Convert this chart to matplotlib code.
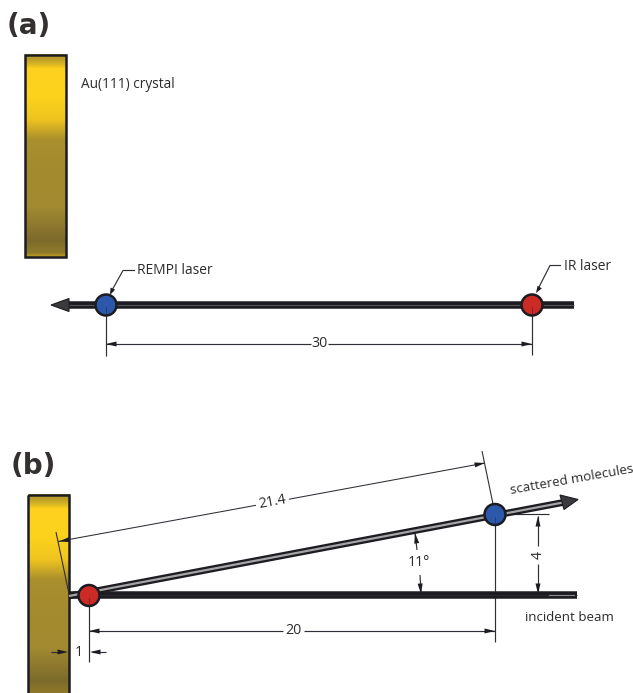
import numpy as np
import matplotlib
matplotlib.use("Agg")
import matplotlib.pyplot as plt
from matplotlib.colors import LinearSegmentedColormap
from matplotlib.patches import Polygon, Circle, Rectangle

W, H = 633, 693
INK = "#1c1c22"
LINE = "#2f2e36"
TXT = "#2b2b2b"
GOLD_STOPS = [0.0, 0.02, 0.04, 0.07, 0.2, 0.32, 0.42, 0.6, 0.75, 0.92, 0.98, 1.0]
GOLD_COLS = ["#d0ac22", "#b89c2a", "#cfae24", "#fdd11e", "#fdd31c", "#efc41f", "#aa8f2e",
             "#a38a2e", "#a38b32", "#7c6a2c", "#8f7a2a", "#c0a020"]

crystal_a = (24.5, 54.5, 66, 257)
crystal_b = (27.5, 494.5, 69, 720)
panel_labels = ["(a)", "(b)"]
beam_a = (574, 305, 68, 305)
rempi_a = (106, 305)
ir_a = (532, 305)
beam_b = (69, 595, 577, 595)
red_b = (89, 595.5)
blue_b = (495, 514.5)
dim_30 = "30"
dim_20 = "20"
dim_214 = "21.4"
dim_4 = "4"
dim_11 = "11°"
dim_1 = "1"

cmap = LinearSegmentedColormap.from_list("gold", list(zip(GOLD_STOPS, GOLD_COLS)))
fig = plt.figure(figsize=(W / 100, H / 100), dpi=100)
ax = fig.add_axes([0, 0, 1, 1])
ax.set_xlim(0, W)
ax.set_ylim(H, 0)
ax.axis("off")
grad = np.linspace(0, 1, 256).reshape(-1, 1)


def crystal(box, span=None):
    x0, y0, x1, y1 = box
    y_end = y0 + (span or (y1 - y0))
    ax.imshow(grad, cmap=cmap, extent=(x0, x1, y_end, y0), aspect="auto", zorder=1)
    ax.add_patch(Rectangle((x0, y0), x1 - x0, y1 - y0, fc="none", ec=INK, lw=1.8, zorder=2))
    ax.set_xlim(0, W)
    ax.set_ylim(H, 0)


def thin(xs, ys, lw=0.85, z=3, color=LINE):
    ax.plot(xs, ys, color=color, lw=lw, zorder=z, solid_capstyle="butt")


def arrow(tip, frm, L=10.5, w=2.5, z=4):
    t = np.array(tip, float)
    d = np.array(frm, float) - t
    d /= np.hypot(*d)
    n = np.array([-d[1], d[0]])
    ax.add_patch(Polygon([t, t + d * L + n * w, t + d * L - n * w], fc=INK, ec="none", zorder=z))


def thick(p, q, lw=4.4, inner="#6d6d70", ilw=0.7, z=5):
    ax.plot([p[0], q[0]], [p[1], q[1]], color=INK, lw=lw, solid_capstyle="butt", zorder=z)
    ax.plot([p[0], q[0]], [p[1], q[1]], color=inner, lw=ilw, solid_capstyle="butt", zorder=z + 0.1)


def ball(c, col):
    ax.add_patch(Circle(c, 10.5, fc=col, ec=INK, lw=1.8, zorder=8))
    ax.plot([c[0], c[0]], [c[1] + 2, c[1] + 10], color=INK, lw=0.5, alpha=0.6, zorder=9)


def label(x, y, s, size=9.6, rot=0, ha="left", va="center"):
    ax.text(x, y, s, fontsize=size, color=TXT, rotation=rot, ha=ha, va=va,
            family="Open Sans", zorder=6, rotation_mode="anchor")


crystal(crystal_a)
crystal(crystal_b, span=203)

ax.text(7, 26, panel_labels[0], fontsize=20, fontweight="bold", family="DejaVu Sans", color="#33302f", va="center")
ax.text(11, 466, panel_labels[1], fontsize=20, fontweight="bold", family="DejaVu Sans", color="#33302f", va="center")
label(81, 84, "Au(111) crystal", 9.8)

# panel a
thick((beam_a[0], beam_a[1]), (68, beam_a[3]), lw=5.4, inner="#55555a", ilw=0.8)
ax.add_patch(Polygon([(51, 305), (69, 298.5), (69, 311.5)], fc="#3a3a3c", ec=INK, lw=0.8, zorder=6))
ball(rempi_a, "#2b58ab")
ball(ir_a, "#cc2a24")
thin([106, 106], [305, 356])
thin([532, 532], [305, 355])
thin([106, 311], [344, 344])
thin([328, 532], [344, 344])
arrow((106, 344), (130, 344))
arrow((532, 344), (510, 344))
label(319.5, 343.5, dim_30, 10.2, ha="center")
thin([135, 123, 111], [270.5, 270.5, 292])
arrow((110, 295), (114, 286), L=7)
label(137, 270.5, "REMPI laser", 9.9)
thin([561, 550, 538], [265.5, 265.5, 289])
arrow((536, 293), (541, 285), L=7)
label(564, 266.5, "IR laser", 9.9)

# panel b
thick((beam_b[0], beam_b[1]), (beam_b[2], beam_b[3]), lw=5.4, inner="#2a2a2e", z=5)
ax.plot([549, 574], [595, 595], color="#8a8a8a", lw=0.8, zorder=5.2)
thick((69, 596), (563, 502.5), lw=4.9, inner="#a5a5a5", ilw=1.6, z=5)
ax.add_patch(Polygon([(578, 499.5), (560, 495), (564, 509.5)], fc="#3a3a3c", ec=INK, lw=0.8, zorder=6))
ball(red_b, "#cc2a24")
ball(blue_b, "#2b58ab")

thin([89, 89], [596, 662])
thin([495, 495], [515, 642])
thin([89, 283], [631, 631])
thin([304, 495], [631, 631])
arrow((89, 631), (112, 631))
arrow((495, 631), (472, 631))
label(293.5, 631, dim_20, 10.2, ha="center")

thin([495, 549], [514, 514])
thin([538, 538], [516, 546])
thin([538, 538], [564, 594])
arrow((538, 516), (538, 530))
arrow((538, 594), (538, 580))
label(538, 555, dim_4, 10.2, rot=90, ha="center")

thin([415, 417], [533, 550])
thin([420, 421], [575, 593])
arrow((415, 533), (417, 545))
arrow((421, 594), (420, 582))
label(419, 563, dim_11, 10.2, ha="center")

thin([58, 256], [541.5, 505.3], lw=0.75)
thin([289, 484], [499.2, 463.2], lw=0.75)
arrow((59, 541.5), (75, 538.6))
arrow((485, 463), (470, 465.8))
label(272, 502, dim_214, 10.2, rot=10.5, ha="center")
thin([56, 69], [532, 594], lw=0.8)
thin([482, 493], [451, 504], lw=0.8)

thin([51, 64], [652, 652])
arrow((68, 652), (56, 652))
thin([92, 106], [652, 652])
arrow((90, 652), (102, 652))
label(79, 653, dim_1, 10.2, ha="center")

label(510, 491, "scattered molecules", 9.5, rot=10)
label(525, 617.5, "incident beam", 9.6)

fig.savefig("out.png", dpi=100)
